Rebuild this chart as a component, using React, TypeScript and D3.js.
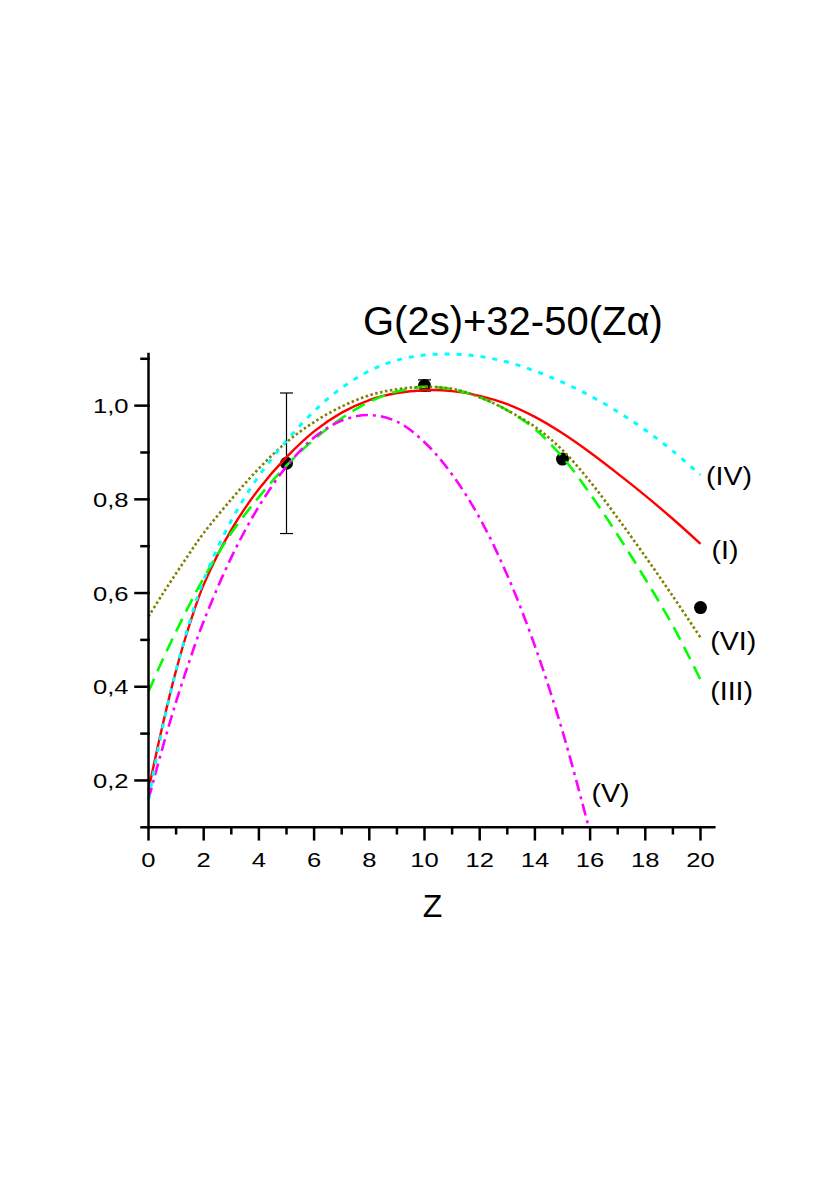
import React from "react";
import * as d3 from "d3";

const W = 830;
const H = 1182;

// Grid of Z values used by curves I, III, IV, VI
const zGrid = [0, 0.5, 1, 1.5, 2, 3, 4, 5, 6, 7, 8, 9, 10, 11, 12, 13, 14, 15, 16, 17, 18, 19, 20];
// Curve (I) red solid
const curveI = [0.18, 0.315, 0.435, 0.535, 0.618, 0.735, 0.822, 0.89, 0.945, 0.985, 1.012, 1.027, 1.033, 1.031, 1.021, 1.003, 0.976, 0.941, 0.9, 0.855, 0.808, 0.758, 0.705];
// Curve (IV) cyan short dash
const curveIV = [0.16, 0.31, 0.435, 0.54, 0.628, 0.755, 0.85, 0.925, 0.988, 1.038, 1.074, 1.097, 1.108, 1.11, 1.105, 1.093, 1.074, 1.05, 1.021, 0.987, 0.948, 0.903, 0.852];
// Curve (III) green dashed
const curveIII = [0.39, 0.456, 0.518, 0.577, 0.632, 0.728, 0.805, 0.872, 0.928, 0.973, 1.008, 1.03, 1.04, 1.035, 1.018, 0.99, 0.95, 0.89, 0.812, 0.724, 0.63, 0.53, 0.415];
// Curve (VI) olive dotted
const curveVI = [0.55, 0.597, 0.642, 0.686, 0.728, 0.8, 0.866, 0.922, 0.965, 0.998, 1.022, 1.035, 1.04, 1.036, 1.018, 0.99, 0.955, 0.905, 0.838, 0.76, 0.678, 0.593, 0.505];
// Curve (V) magenta dash-dot
const zGridV = [0, 0.5, 1, 1.5, 2, 3, 4, 5, 6, 7, 8, 9, 10, 11, 12, 13, 14, 15, 15.95];
const curveV = [0.16, 0.268, 0.368, 0.458, 0.54, 0.676, 0.785, 0.87, 0.932, 0.968, 0.98, 0.966, 0.922, 0.853, 0.76, 0.638, 0.487, 0.305, 0.1];

// Experimental points
const pointZ = [5, 10, 15, 20];
const pointG = [0.877, 1.043, 0.886, 0.569];
const pointErr = [0.15, 0.012, 0, 0];

// Ticks
const xMajor = [0, 2, 4, 6, 8, 10, 12, 14, 16, 18, 20];
const xMinor = [1, 3, 5, 7, 9, 11, 13, 15, 17, 19];
const yMajor = [0.2, 0.4, 0.6, 0.8, 1.0];
const yMinor = [0.1, 0.3, 0.5, 0.7, 0.9, 1.1];

const title = "G(2s)+32-50(Z\u03B1)";
const xTitle = "Z";
const curveLabels = ["(IV)", "(I)", "(VI)", "(III)", "(V)"];

const x = d3.scaleLinear().domain([0, 20.5]).range([148.5, 714.3]);
const y = d3.scaleLinear().domain([0.1, 1.11]).range([827.3, 354.1]);

const lineGen = d3
  .line<[number, number]>()
  .x((d) => x(d[0]))
  .y((d) => y(d[1]))
  .curve(d3.curveCatmullRom.alpha(0.5));

const zip = (zs: number[], vs: number[]) => zs.map((z, i) => [z, vs[i]] as [number, number]);

const FONT = "'Liberation Sans', Arial, Helvetica, sans-serif";

export default function App() {
  const x0 = x.range()[0];
  const yBottom = y.range()[0];
  const yTop = y.range()[1];
  const xRight = x.range()[1];
  const fmt = (v: number) => v.toFixed(1).replace(".", ",");

  // label anchors in data units (placed next to curve ends)
  const labelAnchors: [number, number][] = [
    [20.2, 0.83],
    [20.4, 0.672],
    [20.35, 0.478],
    [20.35, 0.371],
    [16.05, 0.155],
  ];

  return (
    <svg
      width={W}
      height={H}
      style={{ position: "absolute", left: 0, top: 0, background: "#fff" }}
      fontFamily={FONT}
    >
      <rect x={0} y={0} width={W} height={H} fill="#fff" />

      {/* error bars and points */}
      {pointZ.map((z, i) =>
        pointErr[i] > 0 ? (
          <g key={"e" + i} stroke="#000" strokeWidth={1.2}>
            <line x1={x(z)} x2={x(z)} y1={y(pointG[i] - pointErr[i])} y2={y(pointG[i] + pointErr[i])} />
            <line x1={x(z) - 6.5} x2={x(z) + 6.5} y1={y(pointG[i] - pointErr[i])} y2={y(pointG[i] - pointErr[i])} />
            <line x1={x(z) - 6.5} x2={x(z) + 6.5} y1={y(pointG[i] + pointErr[i])} y2={y(pointG[i] + pointErr[i])} />
          </g>
        ) : null
      )}
      {pointZ.map((z, i) => (
        <circle key={"p" + i} cx={x(z)} cy={y(pointG[i])} r={6.5} fill="#000" />
      ))}

      {/* curves */}
      <path d={lineGen(zip(zGrid, curveI)) || ""} fill="none" stroke="#ff0000" strokeWidth={2.4} />
      <path d={lineGen(zip(zGrid, curveIII)) || ""} fill="none" stroke="#00ff00" strokeWidth={2.6} strokeDasharray="14,8" />
      <path d={lineGen(zip(zGrid, curveVI)) || ""} fill="none" stroke="#808000" strokeWidth={2.6} strokeDasharray="2.5,2.5" />
      <path d={lineGen(zip(zGridV, curveV)) || ""} fill="none" stroke="#ff00ff" strokeWidth={2.6} strokeDasharray="12,5,3,5" />
      <path d={lineGen(zip(zGrid, curveIV)) || ""} fill="none" stroke="#00ffff" strokeWidth={3} strokeDasharray="5,7" />

      {/* axes */}
      <g stroke="#000" strokeWidth={2.5} strokeLinecap="square">
        <line x1={x0} x2={x0} y1={yBottom} y2={yTop} />
        <line x1={x0} x2={xRight} y1={yBottom} y2={yBottom} />
        {xMajor.map((t) => (
          <line key={"xM" + t} x1={x(t)} x2={x(t)} y1={yBottom} y2={yBottom + 12} />
        ))}
        {xMinor.map((t) => (
          <line key={"xm" + t} x1={x(t)} x2={x(t)} y1={yBottom} y2={yBottom + 6} />
        ))}
        {yMajor.map((t) => (
          <line key={"yM" + t} x1={x0} x2={x0 - 13} y1={y(t)} y2={y(t)} />
        ))}
        {yMinor.map((t) => (
          <line key={"ym" + t} x1={x0} x2={x0 - 7} y1={y(t)} y2={y(t)} />
        ))}
      </g>

      {/* tick labels */}
      {xMajor.map((t) => (
        <text
          key={"xl" + t}
          transform={`translate(${x(t)},${yBottom + 39.5}) scale(1.22,1)`}
          textAnchor="middle"
          fontSize={21}
          fill="#000"
        >
          {String(t)}
        </text>
      ))}
      {yMajor.map((t) => (
        <text
          key={"yl" + t}
          transform={`translate(${x0 - 20},${y(t) + 7.5}) scale(1.22,1)`}
          textAnchor="end"
          fontSize={21}
          fill="#000"
        >
          {fmt(t)}
        </text>
      ))}

      {/* axis title */}
      <text x={432.5} y={yBottom + 89.5} textAnchor="middle" fontSize={32} fill="#000">
        {xTitle}
      </text>

      {/* chart title */}
      <text x={363} y={335} fontSize={40} fill="#000">
        {title}
      </text>

      {/* curve labels */}
      {curveLabels.map((t, i) => (
        <text
          key={t}
          transform={`translate(${x(labelAnchors[i][0])},${y(labelAnchors[i][1])}) scale(1.1,1)`}
          fontSize={26}
          fill="#000"
        >
          {t}
        </text>
      ))}
    </svg>
  );
}
